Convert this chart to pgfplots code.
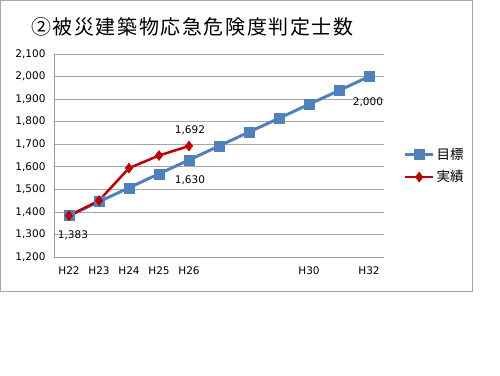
\documentclass[border=0pt]{standalone}
\usepackage{pgfplots}
\pgfplotsset{compat=1.18}
\usepackage{fontspec}
\setmainfont{DejaVu Sans}
\newfontfamily\jp{Noto Sans CJK JP}
\newfontfamily\jptitle[LetterSpace=8]{Noto Sans CJK JP}
\definecolor{tblue}{RGB}{79,129,189}
\definecolor{tred}{RGB}{192,0,0}
\begin{document}
\begin{tikzpicture}
\useasboundingbox (0pt,0pt) rectangle (500pt,-375pt);
\draw[gray!70, line width=1pt] (0.5pt,-0.5pt) rectangle (472pt,-291pt);
\node[anchor=west, inner sep=0pt, font=\jptitle\fontsize{20}{24}\selectfont] at (31pt,-27pt) {②被災建築物応急危険度判定士数};
\begin{axis}[
  at={(54pt,-257pt)}, anchor=south west,
  scale only axis, width=330pt, height=203pt,
  xmin=-0.5, xmax=10.5, ymin=1200, ymax=2100,
  ytick={1200,1300,1400,1500,1600,1700,1800,1900,2000,2100},
  xtick={0,1,2,3,4,5,6,7,8,9,10},
  xticklabels={H22,H23,H24,H25,H26,,,,H30,,H32},
  axis x line=bottom, axis y line=left,
  axis line style={gray!80, -},
  major tick length=0pt,
  ymajorgrids, grid style={gray!70, line width=0.6pt},
  /pgf/number format/assume math mode=true,
  /pgf/number format/1000 sep={,},
  tick label style={font=\fontsize{10.5}{12}\selectfont},
  yticklabel style={xshift=-5pt},
  xticklabel style={yshift=-6pt},
  legend style={at={(1.05,0.45)}, anchor=west, draw=none, fill=none,
    font=\jp\fontsize{13.5}{15}\selectfont, row sep=6pt},
  legend cell align=left,
  legend image code/.code={
    \draw[#1, mark repeat=2, mark phase=2] plot coordinates {(0pt,0pt) (14pt,0pt) (28pt,0pt)};},
  clip=false,
]
\addplot[color=tblue, line width=3pt, mark=square*, mark size=5pt, mark options={solid, line width=0.5pt}]
coordinates {(0,1383) (1,1445) (2,1507) (3,1569) (4,1630) (5,1692) (6,1754) (7,1815) (8,1877) (9,1938) (10,2000)};
\addlegendentry{目標}
\addplot[color=tred, line width=2.5pt, mark=diamond*, mark size=5pt, mark options={solid, line width=0.5pt}]
coordinates {(0,1383) (1,1450) (2,1594) (3,1650) (4,1692)};
\addlegendentry{実績}
\node[font=\fontsize{10.5}{12}\selectfont, xshift=4pt, yshift=-19pt] at (axis cs:0,1383) {1,383};
\node[font=\fontsize{10.5}{12}\selectfont, xshift=1pt, yshift=-20pt] at (axis cs:4,1630) {1,630};
\node[font=\fontsize{10.5}{12}\selectfont, xshift=1pt, yshift=16pt] at (axis cs:4,1692) {1,692};
\node[font=\fontsize{10.5}{12}\selectfont, xshift=-1pt, yshift=-26pt] at (axis cs:10,2000) {2,000};
\end{axis}
\end{tikzpicture}
\end{document}
